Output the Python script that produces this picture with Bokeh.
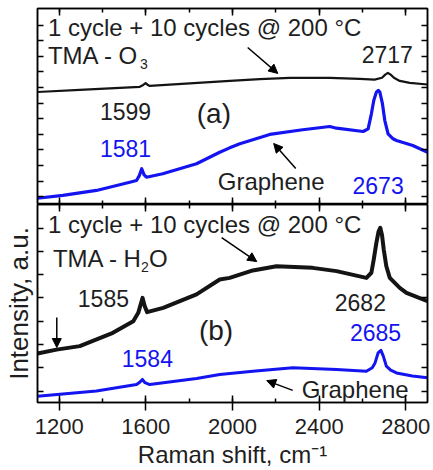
from bokeh.plotting import figure
from bokeh.layouts import column
from bokeh.models import (Range1d, LinearAxis, SingleIntervalTicker, FixedTicker,
                          Arrow, NormalHead, CustomJSTickFormatter, BasicTickFormatter)
from bokeh.core.properties import value
from bokeh.embed import file_html
from bokeh.resources import INLINE

# ---- spectra, panel (a): TMA - O3 ----
shift_a_ald = [1100, 1295, 1480, 1572, 1588, 1599, 1610, 1618, 1803, 1988, 2126, 2264,
               2449, 2587, 2656, 2690, 2705, 2717, 2730, 2745, 2772, 2818, 2900]
int_a_ald = [6.71, 6.84, 6.97, 7.04, 7.16, 7.28, 7.15, 7.10, 7.26, 7.42, 7.54, 7.61,
             7.61, 7.55, 7.50, 7.62, 7.82, 7.93, 7.82, 7.62, 7.42, 7.29, 7.19]

shift_a_gr = [1100, 1217, 1372, 1526, 1557, 1570, 1581, 1592, 1603, 1678, 1834, 1941,
              1987, 2034, 2172, 2324, 2449, 2480, 2603, 2626, 2641, 2652, 2664, 2673,
              2680, 2692, 2703, 2718, 2741, 2757, 2832, 2900]
int_a_gr = [-0.10, 0.08, 0.40, 0.93, 1.04, 1.35, 1.79, 1.40, 1.25, 1.47, 2.11, 2.85,
            3.13, 3.39, 3.99, 4.29, 4.50, 4.39, 4.18, 4.35, 5.31, 6.17, 6.70, 6.81,
            6.70, 5.96, 4.88, 4.03, 3.71, 3.60, 3.28, 2.85]

# ---- spectra, panel (b): TMA - H2O ----
shift_b_ald = [1100, 1188, 1295, 1448, 1542, 1565, 1585, 1595, 1606, 1680, 1834, 1941,
               1987, 2094, 2203, 2370, 2480, 2618, 2641, 2652, 2664, 2674, 2682, 2690,
               2698, 2710, 2726, 2772, 2803, 2900]
int_b_ald = [1.61, 1.78, 1.93, 2.50, 3.00, 3.36, 4.00, 3.64, 3.39, 3.57, 4.15, 4.79,
             4.86, 5.18, 5.36, 5.29, 5.15, 4.86, 5.08, 5.65, 6.36, 6.85, 7.01, 6.70,
             6.08, 5.36, 4.86, 4.43, 4.22, 3.86]

shift_b_gr = [1100, 1372, 1557, 1572, 1584, 1596, 1618, 1834, 1941, 2094, 2278, 2480,
              2618, 2645, 2658, 2672, 2685, 2696, 2710, 2730, 2757, 2830, 2900]
int_b_gr = [-0.22, 0.00, 0.28, 0.38, 0.50, 0.36, 0.28, 0.54, 0.71, 0.85, 1.00, 0.93,
            0.85, 1.00, 1.21, 1.64, 1.75, 1.50, 1.07, 0.90, 0.78, 0.65, 0.57]

BLACK = "#141414"
BLUE = "#1414f0"
TXT = "#1e1e1e"
FONT = "Liberation Sans"
RAISE = -8  # screen-pixel nudge so the text sits on its baseline

blank = CustomJSTickFormatter(code="return ''")


def make_panel(y_lo, y_hi, n_yticks, frame_h, top_border, bottom_border):
    p = figure(frame_width=390, frame_height=frame_h,
               x_range=Range1d(1100, 2900), y_range=Range1d(y_lo, y_hi),
               output_backend="svg", toolbar_location=None,
               min_border_left=37, min_border_right=5,
               min_border_top=top_border, min_border_bottom=bottom_border,
               background_fill_color="white", border_fill_color="white")
    p.grid.visible = False
    p.outline_line_color = "black"
    p.outline_line_width = 1.5
    p.add_layout(LinearAxis(), "above")
    p.add_layout(LinearAxis(), "right")
    for ax in p.xaxis:
        ax.ticker = SingleIntervalTicker(interval=400, num_minor_ticks=2)
    yt = FixedTicker(ticks=list(range(n_yticks)))
    for ax in p.yaxis:
        ax.ticker = yt
    for ax in p.axis:
        ax.axis_line_color = "black"
        ax.axis_line_width = 1.5
        ax.major_tick_line_color = "black"
        ax.minor_tick_line_color = "black"
        ax.major_tick_line_width = 1.5
        ax.minor_tick_line_width = 1.5
        ax.major_tick_in = 7
        ax.major_tick_out = 0
        ax.minor_tick_in = 4
        ax.minor_tick_out = 0
        ax.formatter = blank
        ax.major_label_text_font_size = "0px"
        ax.major_label_text_color = None
        ax.major_label_standoff = 0
    for ax in p.yaxis:
        ax.major_tick_in = 6
    return p


def txt(p, x, y, s, color=TXT, size="23px", xo=0, yo=0):
    p.text(x=[x], y=[y], text=[s], text_color=color, text_font=value(FONT),
           text_font_size=size, text_baseline="alphabetic", text_align="left",
           x_offset=xo, y_offset=yo + RAISE)


head = dict(size=9, fill_color="black", line_color="black", line_width=1)


def arrow(p, x0, y0, x1, y1):
    p.add_layout(Arrow(x_start=x0, y_start=y0, x_end=x1, y_end=y1,
                       line_width=1.5, line_color="black", end=NormalHead(**head)))


# ---------------- panel (a) ----------------
p1 = make_panel(-0.5, 12.06, 12, 196, 8, 0)
p1.line(shift_a_ald, int_a_ald, line_color=BLACK, line_width=2.2, line_join="round")
p1.line(shift_a_gr, int_a_gr, line_color=BLUE, line_width=3.2, line_join="round")

txt(p1, 1148, 10.33, "1 cycle + 10 cycles @ 200 °C", size="24px")
txt(p1, 1148, 8.54, "TMA - O", size="24px")
txt(p1, 1148, 8.54, "3", size="14px", xo=92, yo=9)
txt(p1, 2596, 8.60, "2717")
txt(p1, 1388, 4.95, "1599")
txt(p1, 1835, 4.82, "(a)", size="28px")
txt(p1, 1388, 2.58, "1581", color=BLUE)
txt(p1, 1932, 0.46, "Graphene", size="24px")
txt(p1, 2554, 0.20, "2673", color=BLUE)

arrow(p1, 2070, 9.56, 2209, 7.90)
arrow(p1, 2292, 1.81, 2190, 3.41)

# ---------------- panel (b) ----------------
p2 = make_panel(-0.49, 8.01, 8, 198, 0, 67)
xb = p2.below[0]
xb.formatter = BasicTickFormatter()
xb.major_tick_out = 8
xb.major_label_text_font_size = "22px"
xb.major_label_text_font = FONT
xb.major_label_text_color = TXT
xb.major_label_standoff = 8
xb.axis_label = "Raman shift, cm\u207b\u00b9"
xb.axis_label_text_font = FONT
xb.axis_label_text_font_size = "24px"
xb.axis_label_text_font_style = "normal"
xb.axis_label_text_color = TXT
xb.axis_label_standoff = 4

yl = p2.left[0]
yl.axis_label = "Intensity, a.u."
yl.axis_label_text_font = FONT
yl.axis_label_text_font_size = "26px"
yl.axis_label_text_font_style = "normal"
yl.axis_label_text_color = TXT
yl.axis_label_standoff = 4

p2.line(shift_b_ald, int_b_ald, line_color=BLACK, line_width=4.0, line_join="round")
p2.line(shift_b_gr, int_b_gr, line_color=BLUE, line_width=3.0, line_join="round")

txt(p2, 1148, 6.81, "1 cycle + 10 cycles @ 200 °C", size="24px")
txt(p2, 1171, 5.36, "TMA - H", size="24px")
txt(p2, 1171, 5.36, "2", size="14px", xo=88, yo=9)
txt(p2, 1171, 5.36, "O", size="24px", xo=96)
txt(p2, 1286, 3.64, "1585")
txt(p2, 2472, 3.47, "2682")
txt(p2, 1845, 2.26, "(b)", size="28px")
txt(p2, 2542, 2.18, "2685", color=BLUE)
txt(p2, 1489, 1.07, "1584", color=BLUE)
txt(p2, 2320, -0.275, "Graphene", size="24px")

arrow(p2, 1950, 6.59, 2112, 5.56)
arrow(p2, 2278, 0.03, 2158, 0.45)
arrow(p2, 1189, 3.16, 1189, 1.87)

layout = column(p1, p2, spacing=0)
open("out.html", "w").write(file_html(layout, INLINE))
